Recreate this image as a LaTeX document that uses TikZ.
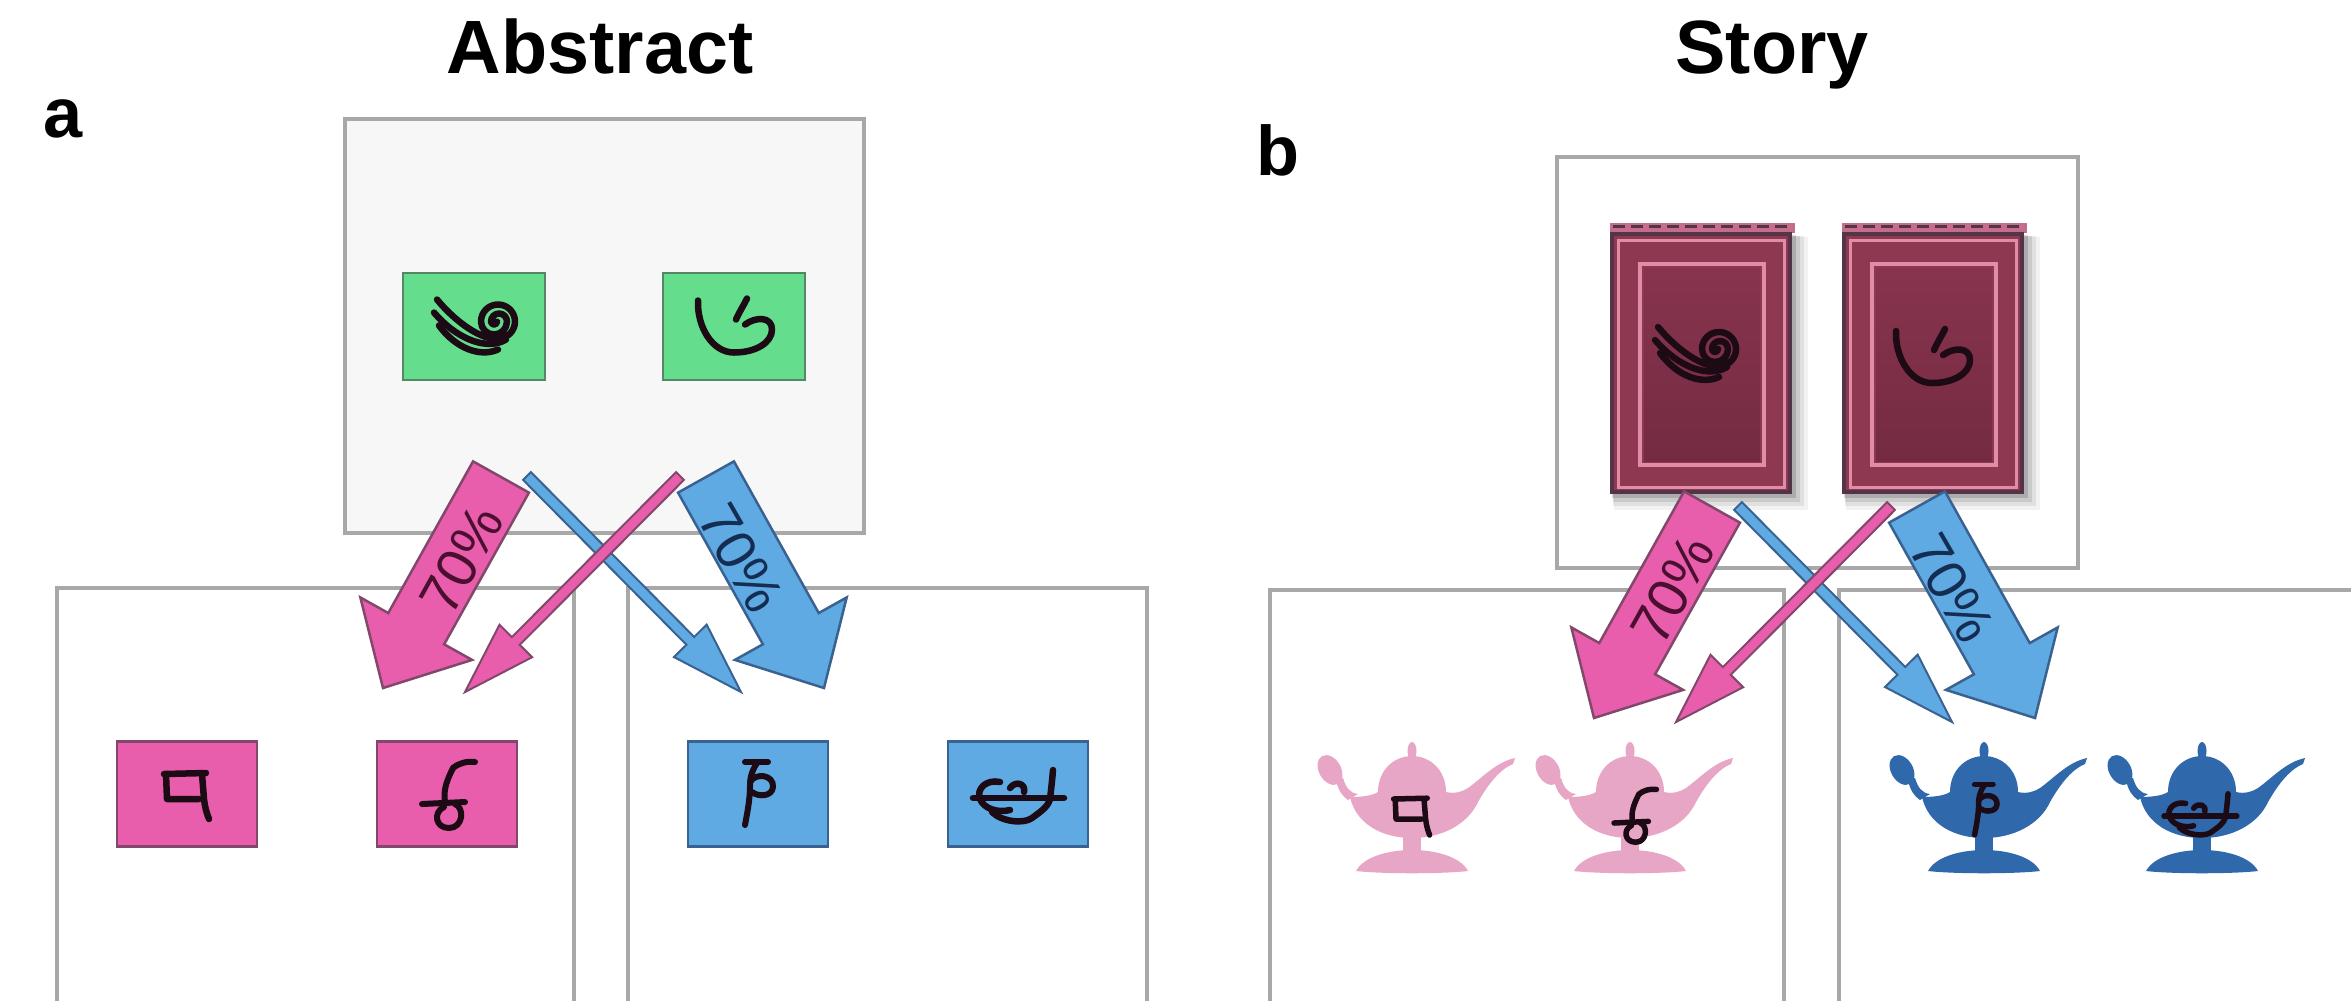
\documentclass[tikz,border=0pt]{standalone}
\usepackage{fontspec}
\setmainfont{Liberation Sans}
\usetikzlibrary{calc}

\definecolor{boxgray}{RGB}{168,168,168}
\definecolor{panelfill}{RGB}{247,247,247}
\definecolor{mint}{RGB}{100,222,140}
\definecolor{mintedge}{RGB}{85,135,100}
\definecolor{rose}{RGB}{232,94,172}
\definecolor{roseedge}{RGB}{130,72,108}
\definecolor{sky}{RGB}{96,170,228}
\definecolor{skyedge}{RGB}{58,98,145}
\definecolor{lamppink}{RGB}{232,166,199}
\definecolor{lampblue}{RGB}{48,104,172}
\definecolor{cardbody}{RGB}{142,56,82}
\definecolor{cardinnertop}{RGB}{136,52,78}
\definecolor{cardinnerbot}{RGB}{116,43,65}
\definecolor{cardframe}{RGB}{86,52,72}
\definecolor{cardline}{RGB}{224,142,168}
\definecolor{cardstrip}{RGB}{196,110,140}
\definecolor{inkdark}{RGB}{28,10,20}
\definecolor{pinktext}{RGB}{75,15,48}
\definecolor{bluetext}{RGB}{20,45,82}

\tikzset{
  panelbox/.style={draw=boxgray, line width=0.4mm},
  tile/.style={draw=#1, line width=0.25mm, inner sep=0pt, minimum width=14mm, minimum height=10.5mm},
  glyphstroke/.style={draw=inkdark, line width=#1, line cap=round, line join=round},
  title/.style={font=\bfseries\fontsize{21.5}{25}\selectfont, inner sep=0pt},
  panellabel/.style={font=\bfseries\fontsize{20}{24}\selectfont, inner sep=0pt},
  pct/.style={font=\fontsize{16}{19}\selectfont, inner sep=0pt},
  bigpink/.style={fill=rose, draw=roseedge, line width=0.25mm, line join=miter},
  thinpink/.style={fill=rose, draw=roseedge, line width=0.2mm, line join=miter},
  bigblue/.style={fill=sky, draw=skyedge, line width=0.25mm, line join=miter},
  thinblue/.style={fill=sky, draw=skyedge, line width=0.2mm, line join=miter},
  % symbol shapes, local units, y pointing down
  glyph spiral/.pic={
    \draw[glyphstroke=#1] (23,-5) arc[start angle=0,end angle=180,radius=3]
      arc[start angle=180,end angle=360,radius=8]
      arc[start angle=0,end angle=180,radius=13]
      arc[start angle=180,end angle=450,radius=17]
      .. controls (8,14) and (-18,-4) .. (-37,-27);
    \draw[glyphstroke=#1] (32,13) .. controls (14,24) and (-16,14) .. (-40,-14);
    \draw[glyphstroke=#1] (24,23) .. controls (6,31) and (-18,22) .. (-35,-1);
  },
  glyph hook/.pic={
    \draw[glyphstroke=#1] (-36,-26) .. controls (-37,0) and (-22,26) .. (0,26)
      .. controls (22,26) and (38,16) .. (38,3) .. controls (38,-10) and (22,-10) .. (11,-2);
    \draw[glyphstroke=#1] (13,-28) .. controls (9,-20) and (5,-14) .. (2,-7);
  },
  glyph pa/.pic={
    \draw[glyphstroke=#1] (-23,-20) -- (19,-21);
    \draw[glyphstroke=#1] (-21,-20) -- (-20,5) -- (12,5);
    \draw[glyphstroke=#1] (15,-20) -- (17,5) .. controls (18,14) and (20,20) .. (22,25);
  },
  glyph cha/.pic={
    \draw[glyphstroke=#1] (6,-26) .. controls (12,-31) and (20,-33) .. (28,-32);
    \draw[glyphstroke=#1] (6,-26) .. controls (0,-14) and (-4,-4) .. (-2,8);
    \draw[glyphstroke=#1] (-25,10) -- (18,8);
    \draw[glyphstroke=#1] (8,10) .. controls (18,14) and (16,34) .. (2,34)
      .. controls (-12,34) and (-14,18) .. (-3,13);
  },
  glyph ta/.pic={
    \draw[glyphstroke=#1] (-13,-32) -- (10,-32);
    \draw[glyphstroke=#1] (-1,-31) .. controls (-7,-22) and (-8,-15) .. (-8,-8)
      .. controls (-8,6) and (-11,20) .. (-13,31);
    \draw[glyphstroke=#1] (-8,-12) .. controls (-2,-22) and (16,-19) .. (15,-7)
      .. controls (14,3) and (0,3) .. (-6,-2);
  },
  glyph a/.pic={
    \draw[glyphstroke=#1] (-45,4) -- (46,4);
    \draw[glyphstroke=#1] (-18,-12) .. controls (-32,-15) and (-42,-5) .. (-38,5)
      .. controls (-34,15) and (-20,19) .. (-8,16);
    \draw[glyphstroke=#1] (-26,18) .. controls (-16,28) and (6,30) .. (14,24)
      .. controls (22,18) and (30,13) .. (32,5);
    \draw[glyphstroke=#1] (35,-24) .. controls (34,-12) and (33,-4) .. (32,5);
    \draw[glyphstroke=#1] (-8,-6) .. controls (-2,-14) and (8,-10) .. (6,-2);
  },
  % oil lamp silhouette, origin at the lid axis, body level
  lamp/.pic={
    \fill[#1] (0,-49) ellipse[x radius=4.5, y radius=9];
    \fill[#1] (-62,-3) .. controls (-52,-3) and (-40,-4) .. (-34,-8)
      .. controls (-34,-30) and (-18,-44) .. (0,-44)
      .. controls (18,-44) and (34,-30) .. (34,-8)
      .. controls (42,-6) and (50,-8) .. (56,-12)
      .. controls (70,-22) and (84,-38) .. (103,-42) -- (101,-36)
      .. controls (86,-30) and (74,-12) .. (66,2)
      .. controls (56,24) and (30,38) .. (0,38)
      .. controls (-30,38) and (-56,24) .. (-62,-3) -- cycle;
    \fill[#1] (-64,0) .. controls (-70,-4) and (-74,-10) .. (-76,-20) -- (-69,-22)
      .. controls (-66,-12) and (-62,-7) .. (-54,-6) -- cycle;
    \fill[#1, rotate around={30:(-82,-30)}] (-82,-30) ellipse[x radius=11, y radius=16];
    \fill[#1] (-9,32) rectangle (9,54);
    \fill[#1] (-56,71) .. controls (-48,56) and (-22,50) .. (0,50)
      .. controls (22,50) and (48,56) .. (56,71)
      .. controls (30,74) and (-30,74) .. (-56,71) -- cycle;
  },
  % patterned card back with a soft drop shadow, origin at its centre
  cardback/.pic={
    \foreach \o/\op in {16/0.05,12/0.07,8/0.10,4/0.14}
      \fill[black, opacity=\op] (-90+\o*0.2,-129+\o*0.2) rectangle (91+\o,131+\o);
    \fill[cardstrip] (-91,-140) rectangle (94,-130);
    \draw[cardframe, line width=0.3mm, dash pattern=on 1.2mm off 0.6mm] (-88,-137) -- (92,-137);
    \fill[cardframe] (-91,-131) rectangle (91,131);
    \fill[cardbody] (-87,-127) rectangle (87,127);
    \draw[cardline, line width=0.3mm] (-83,-123) rectangle (83,124);
    \draw[cardline, line width=0.35mm] (-61,-99) rectangle (63,102);
    \fill[top color=cardinnertop, bottom color=cardinnerbot] (-57,-95) rectangle (59,98);
  },
}

% block arrow: style, tail, tip, shaft half-width, head half-width, head length
\newcommand{\blockarrow}[6]{%
  \coordinate (arrowbase) at ($(#3)!#6!(#2)$);
  \filldraw[#1] ($(#2)!#4!90:(#3)$) -- ($(arrowbase)!#4!90:(#3)$)
    -- ($(arrowbase)!#5!90:(#3)$) -- (#3) -- ($(arrowbase)!#5!-90:(#3)$)
    -- ($(arrowbase)!#4!-90:(#3)$) -- ($(#2)!#4!-90:(#3)$) -- cycle;
}

% the four crossing transition arrows with their labels
\newcommand{\crossarrows}{%
  \coordinate (bpTail) at (501,477);  \coordinate (bpTip) at (383,688);
  \coordinate (bbTail) at (706,477);  \coordinate (bbTip) at (824,688);
  \coordinate (tpTail) at (680,476);  \coordinate (tpTip) at (465,692);
  \coordinate (tbTail) at (527,476);  \coordinate (tbTip) at (741,692);
  \blockarrow{bigpink}{bpTail}{bpTip}{3.2mm}{6.4mm}{6.8mm}
  \blockarrow{bigblue}{bbTail}{bbTip}{3.2mm}{6.4mm}{6.8mm}
  \blockarrow{thinblue}{tbTail}{tbTip}{0.55mm}{2.3mm}{7.2mm}
  \blockarrow{thinpink}{tpTail}{tpTip}{0.55mm}{2.3mm}{7.2mm}
  \node[pct, text=pinktext, rotate=61] (pctPink) at (462,560) {70\%};
  \node[pct, text=bluetext, rotate=-60] (pctBlue) at (741,558) {70\%};
}

\begin{document}
\begin{tikzpicture}[x=0.1mm, y=-0.1mm]
  \path[use as bounding box] (0,0) rectangle (2351,1000);
  \clip (0,0) rectangle (2351,1000);
  \fill[white] (0,0) rectangle (2351,1000);

  % ---------------- panel a ----------------
  \node[title, anchor=base] (abstract) at (600,73) {Abstract};
  \node[panellabel, anchor=base west] (labela) at (43,137) {a};

  \path[panelbox, fill=panelfill] (345,119) rectangle (864,533);
  \path[panelbox, fill=white] (57,588) rectangle (574,1030);
  \path[panelbox, fill=white] (628,588) rectangle (1147,1030);

  \node[tile=mintedge, fill=mint, minimum width=14.2mm, minimum height=10.7mm] (ga1) at (474,326.5) {};
  \node[tile=mintedge, fill=mint, minimum width=14.2mm, minimum height=10.7mm] (ga2) at (734,326.5) {};
  \pic at (ga1) {glyph spiral=0.65mm};
  \pic at (ga2) {glyph hook=0.65mm};

  \node[tile=roseedge, fill=rose] (pa1) at (187,794) {};
  \node[tile=roseedge, fill=rose] (pa2) at (447,794) {};
  \node[tile=skyedge, fill=sky] (ba1) at (758,794) {};
  \node[tile=skyedge, fill=sky] (ba2) at (1018,794) {};
  \pic at (pa1) {glyph pa=0.65mm};
  \pic at (pa2) {glyph cha=0.6mm};
  \pic at (ba1) {glyph ta=0.6mm};
  \pic at (ba2) {glyph a=0.65mm};

  \crossarrows

  % ---------------- panel b ----------------
  \node[title, anchor=base] (story) at (1772,73) {Story};
  \node[panellabel, anchor=base west] (labelb) at (1256,175) {b};

  \path[panelbox, fill=white] (1557,157) rectangle (2078,568);
  \path[panelbox, fill=white] (1270,590) rectangle (1784,1030);
  \path[panelbox, fill=white] (1839,590) rectangle (2380,1030);

  \pic at (1701,363) {cardback};
  \pic at (1933,363) {cardback};
  \pic at (1695,354) {glyph spiral=0.65mm};
  \pic at (1932,357) {glyph hook=0.65mm};

  \pic at (1412,800) {lamp=lamppink};
  \pic at (1630,800) {lamp=lamppink};
  \pic at (1984,800) {lamp=lampblue};
  \pic at (2202,800) {lamp=lampblue};
  \pic[scale=0.8] at (1412,815) {glyph pa=0.55mm};
  \pic[scale=0.8] at (1634,815) {glyph cha=0.55mm};
  \pic[scale=0.8] at (1985,810) {glyph ta=0.55mm};
  \pic[scale=0.8] at (2200,813) {glyph a=0.55mm};

  \begin{scope}[shift={(1211,30)}]
    \crossarrows
  \end{scope}
\end{tikzpicture}
\end{document}
